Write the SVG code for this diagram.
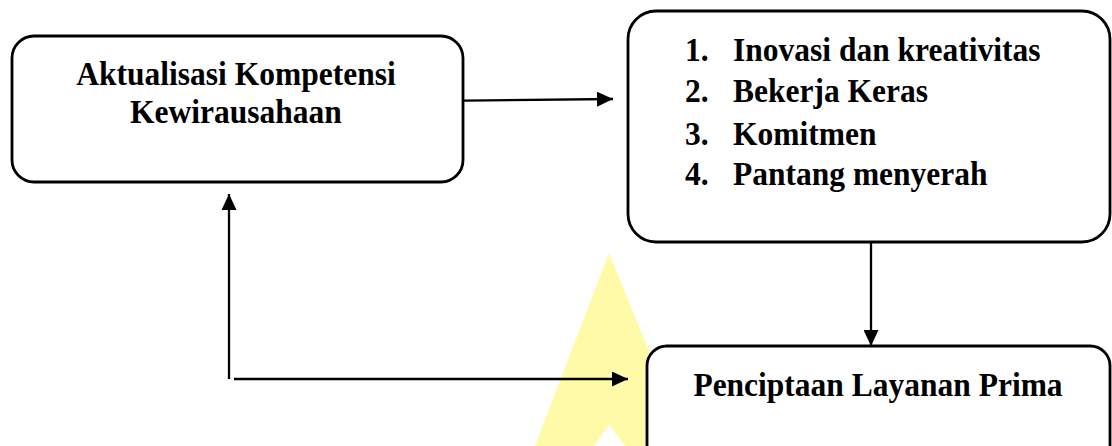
<svg xmlns="http://www.w3.org/2000/svg" width="1112" height="446" viewBox="0 0 1112 446">
  <style>
    .box { fill: #ffffff; stroke: #000000; stroke-width: 2.8; }
    .lbl { font-family: "Liberation Serif", "Times New Roman", serif; font-weight: bold; font-size: 31.5px; fill: #000000; }
    .mid { text-anchor: middle; }
    .conn { stroke: #000000; stroke-width: 2.3; fill: none; }
    .wm { fill: #FFFAA8; }
  </style>
  <defs>
    <marker id="arrow" markerUnits="userSpaceOnUse" markerWidth="16" markerHeight="15" refX="16" refY="7.5" orient="auto">
      <path d="M0,0 L16,7.5 L0,15 z" fill="#000000"/>
    </marker>
  </defs>
  <rect width="1112" height="446" fill="#ffffff"/>
  <polygon class="wm" points="609,253 688,446 625,446 609,425 594,446 535,446"/>

  <g id="node-aktualisasi">
    <rect class="box" x="12" y="36" width="451" height="146" rx="22" ry="22"/>
    <text class="lbl mid" transform="translate(236,85) scale(1,1.1)">Aktualisasi Kompetensi</text>
    <text class="lbl mid" transform="translate(236,123) scale(1,1.1)">Kewirausahaan</text>
  </g>

  <g id="node-list">
    <rect class="box" x="628" y="11" width="482" height="231" rx="28" ry="28"/>
    <text class="lbl" transform="translate(685,61) scale(1,1.1)">1.</text>
    <text class="lbl" transform="translate(733,61) scale(1,1.1)">Inovasi dan kreativitas</text>
    <text class="lbl" transform="translate(685,102) scale(1,1.1)">2.</text>
    <text class="lbl" transform="translate(733,102) scale(1,1.1)">Bekerja Keras</text>
    <text class="lbl" transform="translate(685,145) scale(1,1.1)">3.</text>
    <text class="lbl" transform="translate(733,145) scale(1,1.1)">Komitmen</text>
    <text class="lbl" transform="translate(685,185) scale(1,1.1)">4.</text>
    <text class="lbl" transform="translate(733,185) scale(1,1.1)">Pantang menyerah</text>
  </g>

  <g id="node-layanan">
    <rect class="box" x="647" y="346" width="463" height="130" rx="20" ry="20"/>
    <text class="lbl mid" transform="translate(878,396) scale(1,1.1)">Penciptaan Layanan Prima</text>
  </g>

  <g id="connectors">
    <line class="conn" x1="464" y1="100.7" x2="613" y2="99" marker-end="url(#arrow)"/>
    <line class="conn" x1="871" y1="243" x2="871" y2="346" marker-end="url(#arrow)"/>
    <line class="conn" x1="229" y1="379" x2="229" y2="194" marker-end="url(#arrow)"/>
    <line class="conn" x1="234" y1="379" x2="628" y2="379" marker-end="url(#arrow)"/>
  </g>
</svg>
